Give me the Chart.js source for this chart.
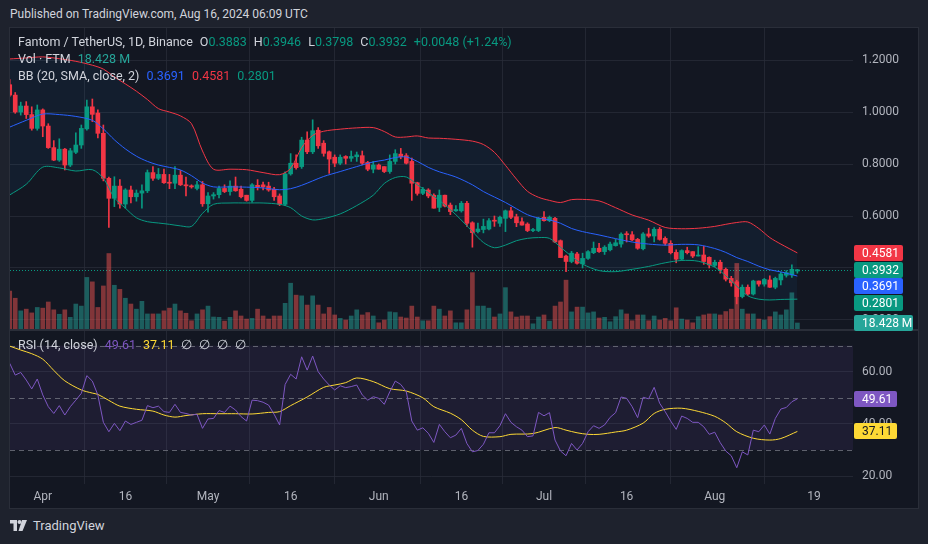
<!DOCTYPE html>
<html>
<head>
<meta charset="utf-8">
<script src="https://cdn.jsdelivr.net/npm/chart.js@4.4.1/dist/chart.umd.min.js"></script>
<style>
  body { margin:0; width:928px; height:544px; background:#1e222d; font-family: Roboto, "Liberation Sans", sans-serif; overflow:hidden; position:relative; }
  #head { position:absolute; left:10px; top:7px; color:#d1d4dc; font-size:12px; }
  #box { position:absolute; left:9px; top:27px; width:908px; height:480px; border:1px solid #2a2e39; background:#131722; }
  #box canvas { position:absolute; left:0; top:0; }
  .leg { position:absolute; left:18px; font-size:12.5px; color:#d1d4dc; white-space:pre; line-height:16px; }
  .leg span { margin-left:7px; }
  .leg span.n { margin-left:0; }
  .g { color:#089981; } .r { color:#f23645; } .b { color:#2962ff; } .t { color:#26a69a; }
  .p { color:#7e57c2; } .y { color:#fdd835; }
  #logo { position:absolute; left:10px; top:518px; color:#d1d4dc; font-size:13px; display:flex; align-items:center; gap:6px; }
</style>
</head>
<body>
<div id="head">Published on TradingView.com, Aug 16, 2024 06:09 UTC</div>
<div id="box"><canvas id="c" width="908" height="480"></canvas></div>
<div class="leg" style="top:34px">Fantom / TetherUS, 1D, Binance<span>O<span class="g n">0.3883</span></span><span>H<span class="g n">0.3946</span></span><span>L<span class="g n">0.3798</span></span><span>C<span class="g n">0.3932</span></span><span class="g">+0.0048 (+1.24%)</span></div>
<div class="leg" style="top:51px">Vol · FTM<span class="t">18.428 M</span></div>
<div class="leg" style="top:68px">BB (20, SMA, close, 2)<span class="b">0.3691</span><span class="r">0.4581</span><span class="g">0.2801</span></div>
<div class="leg" style="top:337px">RSI (14, close)<span class="p">49.61</span><span class="y">37.11</span><span>∅</span><span>∅</span><span>∅</span><span>∅</span></div>
<div id="logo"><svg width="17" height="11" viewBox="0 0 17 11"><path d="M0 0h7v11H3.5V3.5H0z" fill="#d1d4dc"/><circle cx="9.5" cy="2" r="2" fill="#d1d4dc"/><path d="M12 0h5l-4.5 11H8.5z" fill="#d1d4dc"/></svg><span>TradingView</span></div>
<script>
// FTM/USDT daily, day 0 = 2024-03-26, last = 2024-08-16
const opens = [1.105,1.065,1.0,1.023,0.99,0.937,1.008,0.946,0.863,0.815,
  0.857,0.796,0.845,0.873,0.935,1.02,0.996,0.918,0.745,0.668,
  0.715,0.646,0.70,0.674,0.688,0.697,0.767,0.745,0.76,0.73,
  0.726,0.757,0.72,0.716,0.706,0.72,0.647,0.677,0.682,0.706,
  0.694,0.715,0.703,0.68,0.66,0.718,0.72,0.715,0.703,0.677,
  0.645,0.762,0.803,0.79,0.892,0.847,0.93,0.88,0.847,0.826,
  0.803,0.829,0.822,0.828,0.832,0.806,0.78,0.796,0.79,0.771,
  0.81,0.838,0.832,0.81,0.728,0.687,0.70,0.68,0.633,0.68,
  0.642,0.62,0.62,0.649,0.574,0.54,0.548,0.55,0.583,0.572,
  0.591,0.62,0.597,0.578,0.569,0.544,0.544,0.595,0.582,0.591,
  0.505,0.446,0.425,0.454,0.416,0.437,0.459,0.476,0.463,0.47,
  0.486,0.492,0.53,0.528,0.51,0.474,0.531,0.523,0.549,0.514,
  0.495,0.46,0.434,0.467,0.463,0.446,0.45,0.441,0.41,0.422,
  0.395,0.36,0.347,0.29,0.326,0.30,0.35,0.338,0.354,0.326,
  0.354,0.372,0.373,0.3883];
const highs = [1.125,1.075,1.038,1.04,1.02,1.027,1.012,0.955,0.89,0.897,
  0.86,0.86,0.92,0.95,1.046,1.05,1.008,0.95,0.75,0.751,
  0.74,0.705,0.715,0.70,0.72,0.777,0.79,0.783,0.78,0.76,
  0.79,0.775,0.75,0.72,0.733,0.733,0.69,0.69,0.715,0.72,
  0.735,0.75,0.715,0.68,0.725,0.74,0.73,0.73,0.71,0.685,
  0.77,0.84,0.835,0.903,0.924,0.97,0.94,0.89,0.85,0.835,
  0.835,0.832,0.85,0.846,0.85,0.81,0.81,0.80,0.79,0.835,
  0.855,0.86,0.84,0.823,0.73,0.71,0.705,0.685,0.70,0.68,
  0.65,0.64,0.656,0.656,0.578,0.573,0.588,0.59,0.60,0.60,
  0.623,0.633,0.607,0.593,0.574,0.553,0.595,0.617,0.60,0.595,
  0.508,0.45,0.464,0.46,0.457,0.467,0.50,0.495,0.486,0.50,
  0.51,0.535,0.54,0.54,0.514,0.536,0.553,0.555,0.556,0.52,
  0.505,0.47,0.47,0.48,0.463,0.482,0.483,0.443,0.43,0.43,
  0.40,0.368,0.353,0.335,0.335,0.353,0.35,0.36,0.37,0.365,
  0.383,0.39,0.412,0.3946];
const lows = [1.06,0.995,0.988,0.975,0.93,0.93,0.905,0.86,0.813,0.81,
  0.777,0.79,0.84,0.86,0.93,0.963,0.90,0.735,0.556,0.636,
  0.63,0.63,0.65,0.657,0.63,0.69,0.737,0.74,0.725,0.705,
  0.705,0.717,0.677,0.707,0.70,0.637,0.615,0.665,0.67,0.69,
  0.68,0.695,0.67,0.657,0.653,0.70,0.70,0.695,0.66,0.64,
  0.64,0.757,0.78,0.783,0.84,0.84,0.86,0.83,0.764,0.79,
  0.797,0.80,0.81,0.81,0.797,0.774,0.766,0.78,0.767,0.764,
  0.80,0.82,0.80,0.66,0.68,0.682,0.67,0.63,0.617,0.635,
  0.605,0.618,0.615,0.56,0.48,0.535,0.535,0.546,0.56,0.56,
  0.54,0.59,0.559,0.565,0.54,0.54,0.54,0.58,0.578,0.497,
  0.44,0.386,0.42,0.415,0.40,0.433,0.455,0.46,0.452,0.466,
  0.484,0.48,0.50,0.505,0.472,0.47,0.518,0.50,0.507,0.488,
  0.454,0.42,0.43,0.454,0.44,0.446,0.414,0.40,0.405,0.38,
  0.35,0.33,0.262,0.285,0.295,0.296,0.33,0.33,0.325,0.32,
  0.335,0.365,0.364,0.3798];
const closes = [1.065,1.0,1.023,0.99,0.937,1.008,0.946,0.863,0.815,0.857,
  0.796,0.851,0.873,0.937,1.02,0.991,0.918,0.745,0.668,0.715,
  0.646,0.70,0.674,0.688,0.697,0.767,0.745,0.76,0.728,0.726,
  0.757,0.72,0.716,0.712,0.72,0.647,0.677,0.682,0.706,0.694,
  0.715,0.697,0.674,0.66,0.72,0.712,0.712,0.70,0.674,0.645,
  0.762,0.803,0.786,0.892,0.847,0.928,0.87,0.841,0.819,0.803,
  0.826,0.822,0.829,0.835,0.803,0.78,0.796,0.78,0.771,0.81,
  0.84,0.828,0.803,0.726,0.687,0.703,0.677,0.63,0.68,0.638,
  0.617,0.625,0.649,0.572,0.536,0.55,0.56,0.582,0.58,0.595,
  0.62,0.595,0.574,0.565,0.544,0.548,0.591,0.582,0.595,0.50,
  0.44,0.425,0.457,0.418,0.437,0.463,0.476,0.463,0.48,0.492,
  0.497,0.53,0.528,0.508,0.476,0.531,0.523,0.549,0.51,0.495,
  0.459,0.434,0.467,0.459,0.446,0.448,0.425,0.412,0.422,0.394,
  0.357,0.343,0.29,0.326,0.30,0.35,0.338,0.356,0.326,0.36,
  0.377,0.382,0.395,0.3932];
// volume in millions of FTM
const volumes = [112,91,54,59,48,64,62,80,57,44,
  57,35,74,68,152,139,64,127,222,129,
  117,91,74,59,82,45,45,45,54,62,
  74,54,47,25,45,57,68,36,35,24,
  35,54,39,30,32,59,39,30,39,39,
  76,135,100,98,71,98,71,45,64,42,
  32,27,39,57,42,49,39,19,27,51,
  49,36,33,68,36,25,25,68,59,39,
  54,19,19,57,166,68,68,62,36,45,
  122,51,36,39,39,16,36,42,24,68,
  80,144,51,65,65,48,51,33,35,22,
  37,57,45,25,42,42,25,39,27,32,
  25,63,30,27,19,37,42,45,45,42,
  52,59,193,59,45,45,30,27,37,51,
  42,57,107,18.428];

// Bollinger Bands
const bbDays = [0,3,6,9,12,15,17,19,21,23,25,27,29,31,33,35,37,40,43,46,
  49,51,53,55,57,60,63,66,68,70,72,74,76,78,81,84,86,88,90,92,
  94,96,98,100,102,104,107,110,113,116,119,122,125,128,130,132,134,136,138,140,143];
const bbUpper = [1.204,1.208,1.212,1.205,1.195,1.18,1.165,1.135,1.108,1.08,
  1.048,1.013,1.0,0.985,0.955,0.85,0.78,0.78,0.778,0.767,
  0.759,0.783,0.863,0.91,0.926,0.934,0.939,0.94,0.925,0.904,
  0.904,0.908,0.9,0.899,0.895,0.888,0.875,0.845,0.795,0.742,
  0.695,0.672,0.66,0.652,0.663,0.664,0.658,0.632,0.604,0.584,
  0.556,0.551,0.553,0.56,0.568,0.575,0.577,0.552,0.517,0.492,0.4581];
const bbBasis = [0.942,0.968,0.992,0.99,0.983,0.968,0.935,0.893,0.858,0.83,
  0.81,0.796,0.787,0.777,0.755,0.727,0.712,0.712,0.711,0.708,
  0.701,0.705,0.718,0.735,0.752,0.771,0.79,0.808,0.815,0.825,
  0.827,0.81,0.787,0.77,0.75,0.72,0.694,0.673,0.652,0.628,
  0.605,0.592,0.585,0.572,0.552,0.54,0.527,0.513,0.5,0.492,
  0.488,0.491,0.489,0.475,0.46,0.44,0.425,0.407,0.393,0.385,0.3691];
const bbLower = [0.681,0.722,0.788,0.785,0.773,0.778,0.745,0.67,0.63,0.593,
  0.578,0.573,0.568,0.562,0.56,0.61,0.645,0.65,0.65,0.65,
  0.645,0.632,0.6,0.585,0.59,0.608,0.64,0.68,0.725,0.748,
  0.75,0.72,0.69,0.66,0.605,0.54,0.498,0.478,0.488,0.505,
  0.514,0.517,0.514,0.48,0.445,0.415,0.39,0.386,0.395,0.406,
  0.42,0.429,0.426,0.403,0.37,0.33,0.293,0.28,0.277,0.279,0.2801];

// RSI(14) per day and its moving average
const rsi = [63.2,58.7,59.7,56.8,53.4,57.2,51.1,46.6,44.0,47.0,
  43.4,46.6,49.1,51.7,58.5,56.4,51.1,40.6,37.0,40.2,
  37.4,41.1,39.8,40.6,41.4,47.0,46.2,46.8,44.7,44.4,
  47.5,44.4,44.0,43.4,43.7,38.3,41.9,42.1,45.1,44.4,
  46.8,45.3,42.8,41.1,49.1,48.9,48.3,47.2,43.7,39.6,
  55.1,59.0,57.2,65.7,60.6,66.0,60.0,57.2,54.9,53.0,
  54.6,53.9,54.3,54.9,51.1,49.1,50.4,49.8,47.5,52.3,
  56.4,55.1,52.3,41.1,37.6,38.5,36.4,32.9,39.8,37.0,
  34.7,35.7,38.3,32.5,29.3,29.8,32.2,36.6,36.6,39.3,
  43.9,40.6,38.9,37.6,35.1,35.4,44.4,43.1,44.3,33.8,
  29.6,27.8,32.5,30.0,32.5,37.0,39.3,38.3,39.6,42.5,
  44.3,50.3,49.8,46.6,42.4,50.2,49.6,54.0,47.9,44.7,
  41.1,37.9,43.0,42.1,40.6,40.6,38.9,36.0,36.8,32.8,
  29.6,27.8,23.2,29.3,28.1,37.6,37.0,39.6,36.1,42.1,
  45.7,46.3,48.5,49.61];
const rsiMaDays = [0,2,4,6,8,10,13,15,16,18,20,23,26,28,30,32,35,38,41,44,
  47,49,51,54,57,59,61,63,66,69,72,75,77,80,82,84,86,89,91,95,
  99,101,103,105,107,110,112,115,117,119,122,125,128,130,132,135,138,140,143];
const rsiMa = [69.8,68.3,66.9,64.8,60.5,56.5,53.0,51.8,51.3,49.0,
  46.8,45.6,44.9,43.4,42.6,43.2,43.9,43.9,43.9,43.8,
  44.4,44.7,47.0,50.3,54.0,54.9,55.8,57.6,56.2,53.5,
  52.6,50.0,46.6,44.1,41.6,37.6,35.2,35.1,36.0,36.3,
  38.6,37.6,36.6,36.0,36.0,36.9,37.6,40.3,44.0,45.6,
  46.0,44.8,42.9,40.4,37.0,34.5,33.8,34.4,37.11];
const rsiLevels = [70, 50, 30];

// axes
const tickDays = [6, 21, 36, 51, 67, 82, 97, 112, 128, 146];
const tickLabels = ['Apr', '16', 'May', '16', 'Jun', '16', 'Jul', '16', 'Aug', '19'];
const priceTicks = [0.2, 0.4, 0.6, 0.8, 1.0, 1.2];
const rsiTicks = [20, 40, 60];

// value ranges of the shared plot area (price pane on top, RSI pane below)
const PRICE = {min: -0.4308, max: 1.3231};
const RSI = {min: 16.97, max: 191.69};
const VOL = {min: -453.3, max: 882.8};

const UP = '#089981', DOWN = '#f23645';
const GRID = 'rgba(42,46,57,0.75)';

const days = closes.map((_, i) => i);
const up = days.map(i => closes[i] >= opens[i]);
const candleCol = up.map(u => u ? UP : DOWN);
const volCol = up.map(u => u ? 'rgba(38,166,154,0.5)' : 'rgba(239,83,80,0.5)');
const line = (xs, ys) => xs.map((d, k) => ({x: d, y: ys[k]}));
// RSI tick value expressed on the price axis (both axes span the same pixels)
const rsiOnPrice = v => PRICE.min + (v - RSI.min) / (RSI.max - RSI.min) * (PRICE.max - PRICE.min);

Chart.defaults.font.family = 'Roboto, "Liberation Sans", sans-serif';
Chart.defaults.font.size = 12;
Chart.defaults.color = '#b2b5be';

function tag(ctx, x, y, w, text, bg, fg) {
  ctx.fillStyle = bg;
  ctx.beginPath();
  ctx.roundRect(x, Math.round(y - 8), w, 16, 2);
  ctx.fill();
  ctx.fillStyle = fg;
  ctx.textAlign = 'left';
  ctx.textBaseline = 'middle';
  ctx.fillText(text, x + 8, Math.round(y) + 0.5);
}

const noPad = s => { s.paddingTop = 0; s.paddingBottom = 0; s.paddingLeft = 0; s.paddingRight = 0; };

const panes = {
  id: 'panes',
  beforeDatasetsDraw(chart) {
    const {ctx, chartArea: a, scales} = chart;
    const r = scales.yR;
    ctx.save();
    const t = r.getPixelForValue(rsiLevels[0]), b = r.getPixelForValue(rsiLevels[2]);
    ctx.fillStyle = 'rgba(126,87,194,0.1)';
    ctx.fillRect(a.left, t, a.right - a.left, b - t);
    ctx.strokeStyle = 'rgba(120,123,134,0.75)';
    ctx.lineWidth = 1;
    ctx.setLineDash([5, 4]);
    rsiLevels.forEach(v => {
      const yy = Math.round(r.getPixelForValue(v)) + 0.5;
      ctx.beginPath(); ctx.moveTo(a.left, yy); ctx.lineTo(a.right, yy); ctx.stroke();
    });
    // last price line
    const py = Math.round(scales.y.getPixelForValue(closes[closes.length - 1])) + 0.5;
    ctx.strokeStyle = UP; ctx.setLineDash([1, 2]);
    ctx.beginPath(); ctx.moveTo(a.left, py); ctx.lineTo(a.right, py); ctx.stroke();
    ctx.restore();
  },
  afterDatasetsDraw(chart) {
    // pane separator
    const {ctx} = chart;
    ctx.save();
    ctx.strokeStyle = '#2a2e39';
    ctx.lineWidth = 2;
    ctx.beginPath(); ctx.moveTo(0, 302); ctx.lineTo(chart.width, 302); ctx.stroke();
    ctx.restore();
  },
  afterDraw(chart) {
    const {ctx, chartArea: a, scales} = chart;
    const x = a.right + 1;
    const last = arr => arr[arr.length - 1];
    ctx.save();
    ctx.font = '12px Roboto, "Liberation Sans", sans-serif';
    const tags = [
      {v: last(bbUpper), bg: DOWN},
      {v: last(closes), bg: UP},
      {v: last(bbBasis), bg: '#2962ff'},
      {v: last(bbLower), bg: UP}
    ].map(o => ({y: scales.y.getPixelForValue(o.v), text: o.v.toFixed(4), bg: o.bg, w: 49}));
    tags.push({y: scales.yV.getPixelForValue(last(volumes)), text: last(volumes).toFixed(3) + ' M', bg: '#26a69a', w: 59});
    tags.sort((p, q) => p.y - q.y);
    for (let k = 1; k < tags.length; k++) tags[k].y = Math.max(tags[k].y, tags[k - 1].y + 16.5);
    tags.forEach(o => tag(ctx, x, o.y, o.w, o.text, o.bg, '#ffffff'));
    tag(ctx, x, scales.yR.getPixelForValue(last(rsi)), 43, last(rsi).toFixed(2), '#7e57c2', '#ffffff');
    tag(ctx, x, scales.yR.getPixelForValue(last(rsiMa)), 43, last(rsiMa).toFixed(2), '#fdd835', '#131722');
    ctx.restore();
  }
};

new Chart(document.getElementById('c'), {
  type: 'bar',
  data: {
    datasets: [
      {type: 'line', data: line(bbDays, bbUpper), borderColor: '#f23645', borderWidth: 1, pointRadius: 0, tension: 0.3,
       fill: {target: 2}, backgroundColor: 'rgba(33,150,243,0.06)', yAxisID: 'y', order: 2},
      {type: 'line', data: line(bbDays, bbBasis), borderColor: '#2962ff', borderWidth: 1, pointRadius: 0, tension: 0.3, yAxisID: 'y', order: 2},
      {type: 'line', data: line(bbDays, bbLower), borderColor: '#089981', borderWidth: 1, pointRadius: 0, tension: 0.3, yAxisID: 'y', order: 2},
      {data: days.map(i => ({x: i, y: [lows[i], highs[i]]})), backgroundColor: candleCol, barThickness: 1, grouped: false, yAxisID: 'y', order: 5},
      {data: days.map(i => ({x: i, y: [opens[i], closes[i]]})), backgroundColor: candleCol, barThickness: 4, minBarLength: 1, grouped: false, yAxisID: 'y', order: 4},
      {data: days.map(i => ({x: i, y: volumes[i]})), backgroundColor: volCol, barThickness: 4, grouped: false, yAxisID: 'yV', order: 10},
      {type: 'line', data: line(days, rsi), borderColor: '#7e57c2', borderWidth: 1, pointRadius: 0, yAxisID: 'yR', order: 1},
      {type: 'line', data: line(rsiMaDays, rsiMa), borderColor: '#fdd835', borderWidth: 1, pointRadius: 0, tension: 0.3, yAxisID: 'yR', order: 1}
    ]
  },
  options: {
    responsive: false,
    devicePixelRatio: 1,
    animation: false,
    layout: {padding: 0},
    plugins: {legend: {display: false}, tooltip: {enabled: false}, filler: {drawTime: 'beforeDatasetsDraw'}},
    scales: {
      x: {
        type: 'linear', min: 0.05, max: 153.1, offset: false,
        grid: {color: GRID, drawTicks: false},
        border: {display: false},
        ticks: {padding: 6, autoSkip: false, maxRotation: 0, callback: (v, i) => tickLabels[i]},
        afterBuildTicks: s => { s.ticks = tickDays.map(v => ({value: v})); },
        afterFit: s => { s.height = 24; noPad(s); }
      },
      y: {
        position: 'right', min: PRICE.min, max: PRICE.max,
        grid: {color: GRID, drawTicks: false},
        border: {display: false},
        ticks: {padding: 9, callback: (v, i, ticks) => ticks[i].text},
        afterBuildTicks: s => {
          s.ticks = priceTicks.map(v => ({value: v, text: v.toFixed(4)}))
            .concat(rsiTicks.map(v => ({value: rsiOnPrice(v), text: v.toFixed(2)})));
        },
        afterFit: s => { s.width = 65; noPad(s); }
      },
      yR: {display: false, min: RSI.min, max: RSI.max},
      yV: {display: false, min: VOL.min, max: VOL.max}
    }
  },
  plugins: [panes]
});
</script>
</body>
</html>
